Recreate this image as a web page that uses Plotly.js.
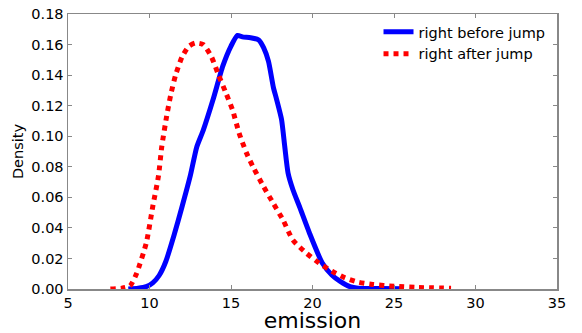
<!DOCTYPE html>
<html>
<head>
<meta charset="utf-8">
<script src="https://cdn.plot.ly/plotly-3.0.1.min.js"></script>
<style>html,body{margin:0;padding:0;background:#fff;}#chart{width:582px;height:333px;}</style>
</head>
<body>
<div id="chart"></div>
<script>
const beforeX = [8.7, 9.3, 9.8, 10.2, 10.6, 11.0, 11.5, 12.0, 12.5, 12.9, 13.3, 13.9, 14.5, 15.0, 15.4, 15.7, 16.2, 16.7, 17.0, 17.3, 17.6, 17.8, 18.1, 18.3, 18.5, 18.8, 19.2, 19.8, 20.6, 21.2, 21.7, 22.3, 22.8, 24.0, 25.5];
const beforeY = [0, 0.0005, 0.0015, 0.004, 0.009, 0.018, 0.035, 0.054, 0.074, 0.093, 0.104, 0.124, 0.146, 0.159, 0.166, 0.165, 0.1645, 0.163, 0.158, 0.149, 0.132, 0.124, 0.111, 0.093, 0.076, 0.065, 0.054, 0.037, 0.017, 0.009, 0.005, 0.0015, 0.0005, 0.0003, 0.0001];
const afterX = [7.6, 8.3, 8.8, 9.2, 9.8, 10.2, 10.55, 10.75, 11.05, 11.3, 11.6, 12.0, 12.4, 12.8, 13.3, 13.8, 14.2, 14.7, 15.1, 15.5, 15.95, 16.35, 17.0, 17.6, 18.2, 18.8, 19.6, 20.4, 21.2, 22.0, 22.8, 23.7, 25.0, 26.5, 28.5];
const afterY = [0, 0.0005, 0.002, 0.010, 0.030, 0.054, 0.074, 0.093, 0.113, 0.127, 0.140, 0.152, 0.1587, 0.161, 0.160, 0.152, 0.141, 0.128, 0.117, 0.102, 0.089, 0.080, 0.067, 0.056, 0.045, 0.032, 0.0237, 0.017, 0.0116, 0.0073, 0.0045, 0.003, 0.0018, 0.001, 0.0005];
const seriesNames = ["right before jump", "right after jump"];

const font = {family: "DejaVu Sans, sans-serif", size: 14.5, color: "#000"};
const axisCommon = {
  showline: true, linecolor: "#888", linewidth: 1.5, mirror: "ticks",
  ticks: "inside", ticklen: 4, tickcolor: "#888", tickwidth: 1,
  showgrid: false, zeroline: false, tickfont: font
};
const traces = [
  {x: beforeX, y: beforeY, name: seriesNames[0], mode: "lines",
   line: {color: "#0000ff", width: 5, shape: "spline", smoothing: 0.6}},
  {x: afterX, y: afterY, name: seriesNames[1], mode: "lines",
   line: {color: "#ff0000", width: 5, dash: "dot", shape: "spline", smoothing: 0.6}}
];
const layout = {
  width: 582, height: 333,
  margin: {l: 67.5, r: 24.5, t: 14, b: 43.5},
  paper_bgcolor: "#fff", plot_bgcolor: "#fff",
  font: font,
  showlegend: true,
  legend: {x: 0.635, y: 0.993, xanchor: "left", yanchor: "top", bgcolor: "rgba(0,0,0,0)", borderwidth: 0, font: font},
  xaxis: Object.assign({}, axisCommon, {range: [5, 35], dtick: 5, tick0: 5,
    title: {text: "emission", font: {family: "DejaVu Sans, sans-serif", size: 22, color: "#000"}, standoff: 9}}),
  yaxis: Object.assign({}, axisCommon, {range: [0, 0.18], dtick: 0.02, tick0: 0, tickformat: ".2f",
    title: {text: "Density", font: {family: "DejaVu Sans, sans-serif", size: 14.5, color: "#000"}, standoff: 4}})
};
Plotly.newPlot("chart", traces, layout, {staticPlot: true});
</script>
</body>
</html>
